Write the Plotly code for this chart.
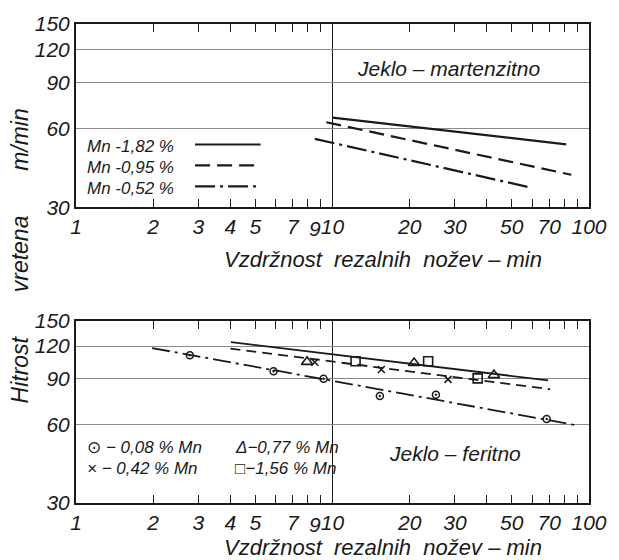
import math
import plotly.graph_objects as go

# ---------------- data ----------------
X_TICKS = [1, 2, 3, 4, 5, 7, 10, 20, 30, 50, 70, 100]
X_TICK_TEXT = ["1", "2", "3", "4", "5", "7", "10", "20", "30", "50", "70", "100"]
X_CROWDED_TICK = 9            # labelled separately, it sits right next to 10
X_CROWDED_TEXT = "9"
X_MINOR = [6, 8, 9, 40, 60, 80, 90]
Y_TICKS = [30, 60, 90, 120, 150]
Y_TICK_TEXT = ["30", "60", "90", "120", "150"]
GRID_X = 10

# Jeklo - martenzitno (top)
MART_T_182 = [10.0, 81.5]
MART_V_182 = [65.9, 52.1]
MART_T_095 = [9.46, 85.3]
MART_V_095 = [63.3, 39.9]
MART_T_052 = [8.53, 58.9]
MART_V_052 = [54.7, 35.7]

# Jeklo - feritno (bottom) fitted lines
FER_SOLID_T = [4.02, 69.3]
FER_SOLID_V = [124.2, 88.6]
FER_DASH_T = [4.0, 70.6]
FER_DASH_V = [117.3, 81.9]
FER_DASHDOT_T = [1.98, 91.2]
FER_DASHDOT_V = [117.9, 59.4]

# Jeklo - feritno measured points
P008_T = [2.78, 5.89, 9.23, 15.3, 25.3, 68.4]
P008_V = [110.6, 96.1, 89.9, 77.2, 78.0, 63.0]
P042_T = [8.53, 15.5, 28.2]
P042_V = [104.0, 97.5, 89.4]
P077_T = [7.96, 20.8, 42.6]
P077_V = [104.3, 103.3, 92.8]
P156_T = [12.3, 23.6, 36.8]
P156_V = [104.9, 104.9, 90.2]

# ---------------- layout helpers ----------------
W, H = 619, 560
ML, MR, MT, MB = 76, 26, 22, 57
PW = W - ML - MR
PH = H - MT - MB


def pp(px, py):
    return (px - ML) / PW, (H - MB - py) / PH


FONT = "Liberation Sans, Arial, DejaVu Sans"
INK = "#1a1a1a"
TICK_SIZE = 21

fig = go.Figure()

LW = 2.2
fig.add_trace(go.Scatter(x=MART_T_182, y=MART_V_182, mode="lines", name="Mn -1,82 %",
                         line=dict(color=INK, width=LW), xaxis="x", yaxis="y"))
fig.add_trace(go.Scatter(x=MART_T_095, y=MART_V_095, mode="lines", name="Mn -0,95 %",
                         line=dict(color=INK, width=LW, dash="15px,7px"), xaxis="x", yaxis="y"))
fig.add_trace(go.Scatter(x=MART_T_052, y=MART_V_052, mode="lines", name="Mn -0,52 %",
                         line=dict(color=INK, width=LW, dash="20px,5px,3px,5px"), xaxis="x", yaxis="y"))

LW2 = 1.8
fig.add_trace(go.Scatter(x=FER_SOLID_T, y=FER_SOLID_V, mode="lines", showlegend=False,
                         line=dict(color=INK, width=LW2), xaxis="x2", yaxis="y2"))
fig.add_trace(go.Scatter(x=FER_DASH_T, y=FER_DASH_V, mode="lines", showlegend=False,
                         line=dict(color=INK, width=LW2, dash="10px,6px"), xaxis="x2", yaxis="y2"))
fig.add_trace(go.Scatter(x=FER_DASHDOT_T, y=FER_DASHDOT_V, mode="lines", showlegend=False,
                         line=dict(color=INK, width=LW2, dash="18px,5px,3px,5px"), xaxis="x2", yaxis="y2"))

fig.add_trace(go.Scatter(x=P008_T, y=P008_V, mode="markers", name="0,08 % Mn",
                         marker=dict(symbol="circle-open-dot", size=7, color=INK, line=dict(width=1.5)),
                         xaxis="x2", yaxis="y2"))
fig.add_trace(go.Scatter(x=P042_T, y=P042_V, mode="markers", name="0,42 % Mn",
                         marker=dict(symbol="x-thin-open", size=7, color=INK, line=dict(width=1.6)),
                         xaxis="x2", yaxis="y2"))
fig.add_trace(go.Scatter(x=P077_T, y=P077_V, mode="markers", name="0,77 % Mn",
                         marker=dict(symbol="triangle-up-open", size=10, color=INK, line=dict(width=1.6)),
                         xaxis="x2", yaxis="y2"))
fig.add_trace(go.Scatter(x=P156_T, y=P156_V, mode="markers", name="1,56 % Mn",
                         marker=dict(symbol="square-open", size=9, color=INK, line=dict(width=1.6)),
                         xaxis="x2", yaxis="y2"))

tickfont = dict(family=FONT, size=TICK_SIZE, color=INK, style="italic")


def itl(labels):
    return ["<i>" + t + "</i>" for t in labels]


def xax(anchor):
    return dict(type="log", range=[0, 2], domain=[0, 1], anchor=anchor,
                tickmode="array", tickvals=X_TICKS, ticktext=itl(X_TICK_TEXT), tickangle=0,
                ticks="inside", ticklen=8, tickwidth=1, tickcolor=INK, mirror="ticks",
                showline=True, linewidth=2, linecolor=INK, showgrid=False, zeroline=False,
                tickfont=tickfont,
                minor=dict(tickmode="array", tickvals=X_MINOR, ticks="inside", ticklen=8,
                           tickwidth=1, tickcolor=INK, showgrid=False))


def yax(anchor, dom):
    return dict(type="log", range=[math.log10(30), math.log10(150)], domain=dom, anchor=anchor,
                tickmode="array", tickvals=Y_TICKS, ticktext=itl(Y_TICK_TEXT), ticks="",
                showline=True, mirror=True, linewidth=2, linecolor=INK,
                showgrid=True, gridcolor="#8a8a8a", gridwidth=1, zeroline=False,
                tickfont=tickfont)


top_dom = [pp(0, 206)[1], 1.0]
bot_dom = [0.0, pp(0, 320)[1]]

fig.update_layout(
    width=W, height=H, margin=dict(l=ML, r=MR, t=MT, b=MB),
    paper_bgcolor="white", plot_bgcolor="white", showlegend=False,
    xaxis=xax("y"), yaxis=yax("x", top_dom),
    xaxis2=xax("y2"), yaxis2=yax("x2", bot_dom),
)

# vertical grid line at 10, and the crowded "9" tick label nudged left of its tick
for xr, yr in (("x", "y domain"), ("x2", "y2 domain")):
    fig.add_shape(type="line", xref=xr, yref=yr, x0=GRID_X, x1=GRID_X, y0=0, y1=1,
                  line=dict(color=INK, width=1), layer="below")
    fig.add_annotation(text="<i>" + X_CROWDED_TEXT + "</i>", x=math.log10(X_CROWDED_TICK), y=0,
                       xref=xr, yref=yr, showarrow=False, xanchor="center", yanchor="top",
                       xshift=-6, yshift=-8, font=tickfont)


def note(text, px, py, size, anchor="center", angle=0):
    x, y = pp(px, py)
    fig.add_annotation(text="<i>" + text + "</i>", x=x, y=y, xref="paper", yref="paper",
                       showarrow=False, xanchor=anchor, yanchor="middle", textangle=angle,
                       font=dict(family=FONT, size=size, color=INK))


# top legend (text + line samples)
LEG_TEXT = ["Mn -1,82 %", "Mn -0,95 %", "Mn -0,52 %"]
LEG_DASH = ["solid", "15px,7px", "20px,5px,3px,5px"]
for i, (t, d) in enumerate(zip(LEG_TEXT, LEG_DASH)):
    py = 145 + i * 21
    note(t, 85, py, 17, anchor="left")
    x0, y0 = pp(196, py - 2)
    x1, _ = pp(262, py - 2)
    fig.add_shape(type="line", xref="paper", yref="paper", x0=x0, x1=x1, y0=y0, y1=y0,
                  line=dict(color=INK, width=LW, dash=d))

# bottom legend
note("\u2299 \u2212 0,08 % Mn", 85, 447, 17, anchor="left")
note("\u00d7 \u2212 0,42 % Mn", 85, 468, 17, anchor="left")
note("\u0394\u22120,77 % Mn", 234, 447, 17, anchor="left")
note("\u25a1\u22121,56 % Mn", 234, 468, 17, anchor="left")

note("Jeklo \u2013 martenzitno", 451, 67, 21)
note("Jeklo \u2013 feritno", 458, 453, 21)

XT = "Vzdr\u017enost\u00a0 rezalnih\u00a0 no\u017eev \u2013 min"
note(XT, 385, 258, 22)
note(XT, 385, 548, 22)
note("Hitrost\u00a0\u00a0\u00a0\u00a0\u00a0\u00a0 vretena\u00a0\u00a0\u00a0\u00a0\u00a0\u00a0 m/min",
     20, 255, 23, angle=-90)

fig.write_html("out.html", config={"displayModeBar": False},
               post_script="document.body.style.margin='0';document.body.style.overflow='hidden';")
